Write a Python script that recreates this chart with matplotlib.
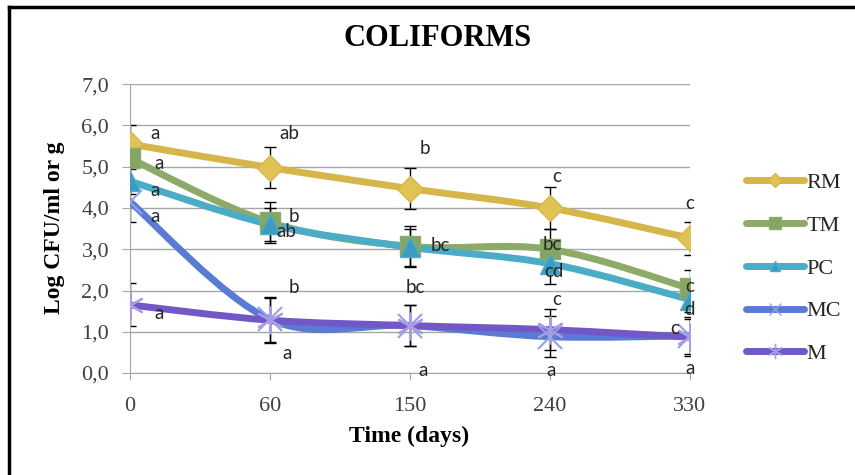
import matplotlib
matplotlib.use('Agg')
import matplotlib.pyplot as plt
from matplotlib.path import Path
from matplotlib.patches import PathPatch
from matplotlib.lines import Line2D

days = ['0', '60', '150', '240', '330']
names = ['RM', 'TM', 'PC', 'MC', 'M']

rm = [5.55, 4.98, 4.47, 4.00, 3.27]
tm = [5.20, 3.65, 3.07, 3.00, 2.05]
pc = [4.65, 3.60, 3.05, 2.65, 1.78]
mc = [4.15, 1.30, 1.15, 0.88, 0.90]
m = [1.65, 1.28, 1.15, 1.05, 0.87]

rm_err = [0.45, 0.50, 0.50, 0.50, 0.40]
tm_err = [0.20, 0.50, 0.50, 0.50, 0.45]
pc_err = [0.30, 0.40, 0.45, 0.50, 0.30]
mc_err = [0.50, 0.55, 0.50, 0.50, 0.45]
m_err = [0.52, 0.55, 0.50, 0.50, 0.45]

# significance letters, (x, y) in data units
rm_letters = [('a', 0.18, 5.81), ('ab', 1.14, 5.81), ('b', 2.11, 5.45), ('c', 3.05, 4.77), ('c', 4.0, 4.12)]
tm_letters = [('a', 0.21, 5.08), ('b', 1.17, 3.80), ('bc', 2.22, 3.10), ('bc', 3.02, 3.12), ('c', 4.0, 2.10)]
pc_letters = [('a', 0.18, 4.43), ('ab', 1.12, 3.42), ('cd', 3.03, 2.45), ('d', 4.0, 1.53)]
mc_letters = [('a', 0.18, 3.80), ('b', 1.17, 2.08), ('bc', 2.04, 2.08), ('c', 3.05, 1.77), ('c', 3.89, 1.09)]
m_letters = [('a', 0.21, 1.45), ('a', 1.12, 0.48), ('a', 2.09, 0.07), ('a', 3.01, 0.07), ('a', 4.0, 0.12)]

series = [
    (rm, rm_err, rm_letters, '#D4B64A', 'D', 13, '#E0C255'),
    (tm, tm_err, tm_letters, '#8DAA68', 's', 15, '#84A662'),
    (pc, pc_err, pc_letters, '#4BACC6', '^', 14, '#3E9BC0'),
    (mc, mc_err, mc_letters, '#5A7BD4', 'x', 17, '#8FA4E6'),
    (m, m_err, m_letters, '#7257C6', (6, 2, 0), 20, '#A99BE6'),
]


def smooth_path(xs, ys):
    # Excel style smoothed line: cubic bezier with catmull-rom tangents
    pts = list(zip(xs, ys))
    verts = [pts[0]]
    codes = [Path.MOVETO]
    n = len(pts)
    for i in range(n - 1):
        p0 = pts[max(i - 1, 0)]
        p1 = pts[i]
        p2 = pts[i + 1]
        p3 = pts[min(i + 2, n - 1)]
        c1 = (p1[0] + (p2[0] - p0[0]) / 6, p1[1] + (p2[1] - p0[1]) / 6)
        c2 = (p2[0] - (p3[0] - p1[0]) / 6, p2[1] - (p3[1] - p1[1]) / 6)
        verts += [c1, c2, p2]
        codes += [Path.CURVE4] * 3
    return Path(verts, codes)


def is_line_marker(mk):
    return mk == 'x' or isinstance(mk, tuple)


fig = plt.figure(figsize=(8.55, 4.75), dpi=100)
ax = fig.add_axes([0.152, 0.2147, 0.655, 0.608])
x = list(range(len(days)))

for k, (vals, err, letters, col, mk, ms, mcol) in enumerate(series):
    ax.errorbar(x, vals, yerr=err, fmt='none', ecolor='black', elinewidth=1,
                capsize=4, capthick=1, zorder=2 + k * 0.1)
    ax.add_patch(PathPatch(smooth_path(x, vals), facecolor='none', edgecolor=col,
                           lw=5, capstyle='round', joinstyle='round', zorder=3 + k * 0.1))
    if is_line_marker(mk):
        ax.plot(x, vals, ls='none', marker=mk, ms=ms, mew=1.5, color=mcol, zorder=4 + k * 0.1)
    else:
        ax.plot(x, vals, ls='none', marker=mk, ms=ms, mfc=mcol, mec=col, mew=1, zorder=4 + k * 0.1)
    for txt, tx, ty in letters:
        ax.text(tx, ty, txt, ha='center', va='center', fontsize=13.5, family='Lato',
                color='#262626', zorder=6)

ax.set_xlim(0, 4)
ax.set_ylim(0, 7)
ax.set_xticks(x)
ax.set_xticklabels(days, family='Liberation Serif', fontsize=16, color='#404040')
ax.set_yticks(range(8))
ax.set_yticklabels(['%d,0' % v for v in range(8)], family='Liberation Serif',
                   fontsize=16, color='#404040')
ax.grid(axis='y', color='#A6A6A6', lw=1)
ax.set_axisbelow(True)
for s in ('top', 'right'):
    ax.spines[s].set_visible(False)
for s in ('left', 'bottom'):
    ax.spines[s].set_color('#A6A6A6')
ax.tick_params(axis='y', length=6, color='#A6A6A6', pad=9)
ax.tick_params(axis='x', length=5, color='#A6A6A6', pad=12)

fig.text(0.512, 0.92, 'COLIFORMS', ha='center', va='center', fontsize=22,
         fontweight='bold', family='Liberation Serif')
fig.text(0.064, 0.52, 'Log CFU/ml or g', ha='center', va='center', rotation=90,
         fontsize=17, fontweight='bold', family='Liberation Serif')
fig.text(0.478, 0.081, 'Time (days)', ha='center', va='center', fontsize=17,
         fontweight='bold', family='Liberation Serif')

handles = []
for vals, err, letters, col, mk, ms, mcol in series:
    if is_line_marker(mk):
        h = Line2D([], [], color=col, lw=5, solid_capstyle='round', marker=mk, ms=ms * 0.55,
                   mec=mcol, mew=1)
    else:
        h = Line2D([], [], color=col, lw=5, solid_capstyle='round', marker=mk, ms=ms * 0.55,
                   mfc=mcol, mec=col)
    handles.append(h)
leg = fig.legend(handles, names, loc='center left', bbox_to_anchor=(0.860, 0.435),
                 frameon=False, labelspacing=1.0, handlelength=2.6,
                 handletextpad=0.12, borderpad=0,
                 prop={'family': 'Liberation Serif', 'size': 16})
for t in leg.get_texts():
    t.set_color('#262626')

# outer frame (top and left edges)
fig.add_artist(Line2D([0.0105, 1.0], [0.985, 0.985], color='black', lw=2.5,
                      transform=fig.transFigure))
fig.add_artist(Line2D([0.0105, 0.0105], [0.0, 0.985], color='black', lw=2.5,
                      transform=fig.transFigure))

fig.savefig('out.png', dpi=100)
